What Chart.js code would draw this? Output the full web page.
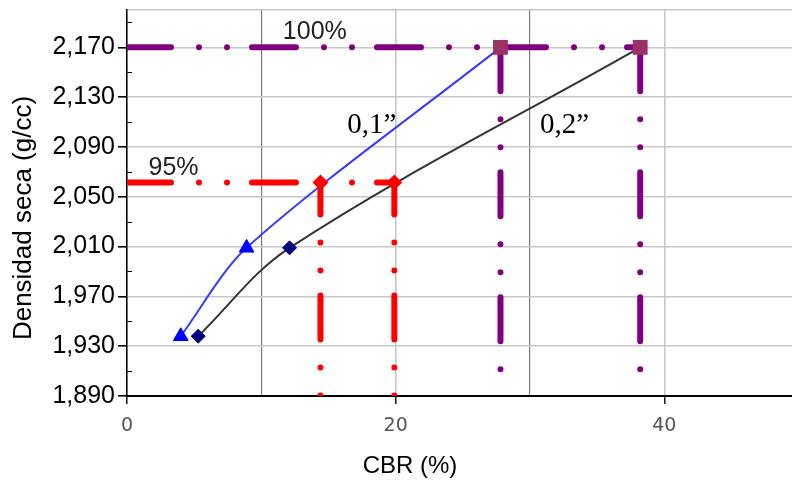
<!DOCTYPE html>
<html><head><meta charset="utf-8">
<script src="https://cdn.jsdelivr.net/npm/chart.js@4"></script>
<style>html,body{margin:0;padding:0;background:#fff;overflow:hidden}</style>
</head><body>
<canvas id="c" width="792" height="480"></canvas>
<script>
// ---- data ----
const cbr01 = [4.0, 8.9, 27.8];
const dens01 = [1938, 2009, 2170];
const cbr02 = [5.3, 12.1, 38.2];
const dens02 = [1938, 2009, 2170];
const maxDensity = 2170;
const density95 = 2061.5;
const cbr95 = [14.4, 19.9];
const cbr100 = [27.8, 38.2];
const yTickValues = [1890, 1930, 1970, 2010, 2050, 2090, 2130, 2170];
const yTickLabels = ['1,890', '1,930', '1,970', '2,010', '2,050', '2,090', '2,130', '2,170'];
const yMinorTicks = [1910, 1950, 1990, 2030, 2070, 2110, 2150, 2190];
const xTickValues = [0, 10, 20, 30, 40];
const xLabelValues = [0, 20, 40];
const xMin = 0, xMax = 49.5, yMin = 1890, yMax = 2200;

const dashPattern = [44, 28, 0, 28, 0, 25];
function refLine(points, color, offset, order) {
  return {
    data: points, showLine: true, borderColor: color, borderWidth: 6,
    borderDash: dashPattern, borderDashOffset: offset || 0, borderCapStyle: 'round',
    pointRadius: 0, tension: 0, order: order
  };
}

const datasets = [
  refLine([{x: 0, y: maxDensity}, {x: cbr100[1], y: maxDensity}], '#800080', 0, 10),
  refLine([{x: cbr100[0], y: maxDensity}, {x: cbr100[0], y: yMin}], '#800080', 0, 10),
  refLine([{x: cbr100[1], y: maxDensity}, {x: cbr100[1], y: yMin}], '#800080', 0, 10),
  refLine([{x: 0, y: density95}, {x: cbr95[1], y: density95}], '#ff0000', 0, 9),
  refLine([{x: cbr95[0], y: density95}, {x: cbr95[0], y: yMin}], '#ff0000', 12, 9),
  refLine([{x: cbr95[1], y: density95}, {x: cbr95[1], y: yMin}], '#ff0000', 12, 9),
  {
    data: cbr01.map((x, i) => ({x, y: dens01[i]})), showLine: true,
    borderColor: '#3a3aff', borderWidth: 2, tension: 0.3,
    pointStyle: 'triangle', pointRadius: [8.5, 8.5, 0], pointBackgroundColor: '#0000ff',
    pointBorderColor: '#0000ff', pointBorderWidth: 1, order: 5
  },
  {
    data: cbr02.map((x, i) => ({x, y: dens02[i]})), showLine: true,
    borderColor: '#333333', borderWidth: 2, tension: 0.35,
    pointStyle: 'rectRot', pointRadius: [7, 7, 0], pointBackgroundColor: '#000080',
    pointBorderColor: '#000080', pointBorderWidth: 1, order: 4
  },
  {
    data: cbr95.map(x => ({x, y: density95})), showLine: false,
    pointStyle: 'rectRot', pointRadius: 8, pointBackgroundColor: '#ff0000',
    pointBorderColor: '#ff0000', pointBorderWidth: 0, order: 2
  },
  {
    data: cbr100.map(x => ({x, y: maxDensity})), showLine: false,
    pointStyle: 'rect', pointRadius: 10.5, pointBackgroundColor: '#993366',
    pointBorderColor: '#993366', pointBorderWidth: 0, order: 1
  }
];

const labelsPlugin = {
  id: 'labelsPlugin',
  afterDraw(chart) {
    const ctx = chart.ctx;
    const xs = chart.scales.x, ys = chart.scales.y;
    ctx.save();
    // minor inner ticks on y axis
    ctx.strokeStyle = '#000'; ctx.lineWidth = 1;
    yMinorTicks.forEach(v => {
      const py = Math.round(ys.getPixelForValue(v)) + 0.5;
      ctx.beginPath(); ctx.moveTo(xs.left, py); ctx.lineTo(xs.left + 5, py); ctx.stroke();
    });
    // annotations
    ctx.fillStyle = '#222';
    ctx.textBaseline = 'alphabetic'; ctx.textAlign = 'left';
    ctx.font = '25px "Liberation Sans"';
    ctx.fillText('100%', xs.getPixelForValue(11.6), ys.getPixelForValue(maxDensity) - 8);
    ctx.fillText('95%', xs.getPixelForValue(1.6), ys.getPixelForValue(density95) - 7);
    ctx.fillStyle = '#000';
    ctx.font = '29px "Liberation Serif"';
    ctx.fillText('0,1\u201D', xs.getPixelForValue(16.4), ys.getPixelForValue(2101));
    ctx.fillText('0,2\u201D', xs.getPixelForValue(30.75), ys.getPixelForValue(2101));
    // axis titles
    ctx.fillStyle = '#000';
    ctx.textAlign = 'center'; ctx.textBaseline = 'middle';
    ctx.font = '24px "Liberation Sans"';
    ctx.fillText('CBR (%)', 410, 466);
    ctx.translate(24, 218);
    ctx.rotate(-Math.PI / 2);
    ctx.font = '26px "Liberation Sans"';
    ctx.fillText('Densidad seca (g/cc)', 0, 0);
    ctx.restore();
  }
};

new Chart(document.getElementById('c'), {
  type: 'scatter',
  data: { datasets },
  options: {
    responsive: false, animation: false, events: [],
    layout: { autoPadding: false, padding: { top: 10, left: 0, right: 0, bottom: 0 } },
    plugins: { legend: { display: false }, tooltip: { enabled: false } },
    scales: {
      x: {
        type: 'linear', min: xMin, max: xMax,
        afterBuildTicks: s => { s.ticks = xTickValues.map(v => ({value: v})); },
        afterFit: s => { s.height = 84; s.paddingLeft = 0; s.paddingRight = 0; },
        grid: {
          color: c => (c.tick && xLabelValues.includes(c.tick.value)) ? '#c8c8c8' : '#7a7a7a',
          lineWidth: c => (c.tick && xLabelValues.includes(c.tick.value)) ? 1.6 : 1.2,
          tickColor: c => (c.tick && xLabelValues.includes(c.tick.value)) ? '#222' : 'rgba(0,0,0,0)',
          tickLength: 8
        },
        border: { color: '#000', width: 2 },
        ticks: {
          autoSkip: false, maxRotation: 0, padding: 11,
          callback: v => xLabelValues.includes(v) ? String(v) : '',
          font: { family: 'DejaVu Sans', size: 19 }, color: '#555555'
        }
      },
      y: {
        type: 'linear', min: yMin, max: yMax,
        afterBuildTicks: s => { s.ticks = yTickValues.concat([yMax]).map(v => ({value: v})); },
        afterFit: s => { s.width = 127; s.paddingTop = 0; s.paddingBottom = 0; },
        grid: {
          color: '#c8c8c8', lineWidth: 1.6,
          tickColor: c => (c.tick && yTickValues.includes(c.tick.value)) ? '#000' : 'rgba(0,0,0,0)',
          tickLength: 9
        },
        border: { color: '#000', width: 1.5 },
        ticks: {
          autoSkip: false, padding: 3,
          callback: v => { const i = yTickValues.indexOf(v); return i >= 0 ? yTickLabels[i] : ''; },
          font: { family: 'Liberation Sans', size: 25 }, color: '#000'
        }
      }
    }
  },
  plugins: [labelsPlugin]
});
</script>
</body></html>
